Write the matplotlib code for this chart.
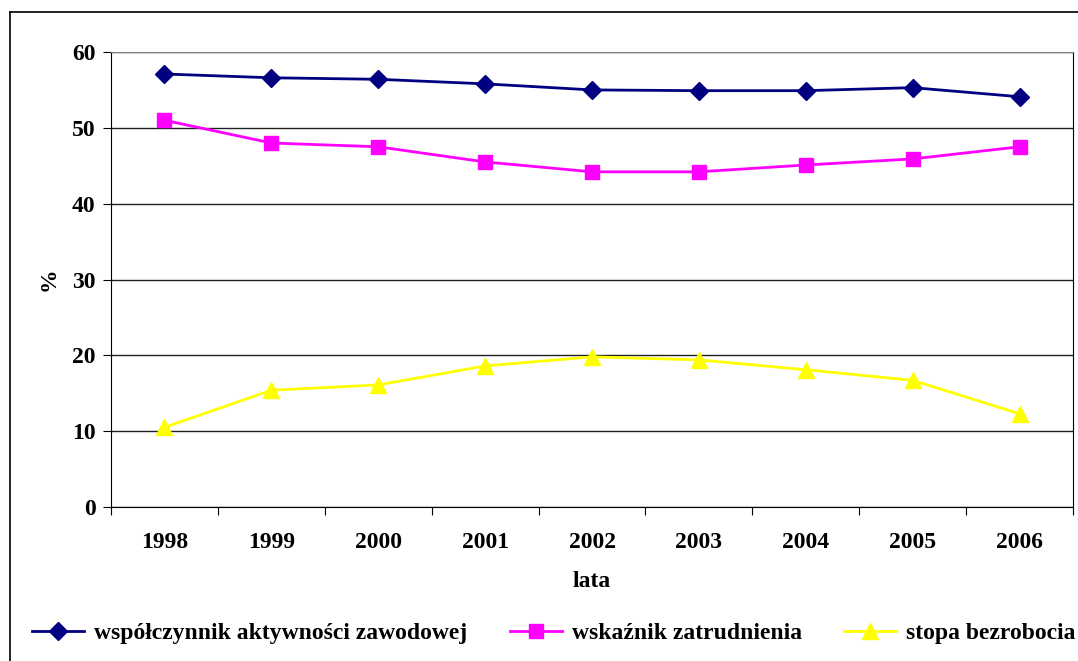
import numpy as np
import matplotlib
matplotlib.use('Agg')
import matplotlib.pyplot as plt
from matplotlib.lines import Line2D

plt.rcParams['font.family'] = 'Liberation Serif'
plt.rcParams['font.weight'] = 'bold'

# data
years = ['1998', '1999', '2000', '2001', '2002', '2003', '2004', '2005', '2006']
aktywnosc = [57.1, 56.6, 56.4, 55.8, 55.0, 54.9, 54.9, 55.3, 54.1]
zatrudnienie = [51.0, 48.0, 47.5, 45.5, 44.2, 44.2, 45.1, 45.9, 47.5]
bezrobocie = [10.5, 15.4, 16.1, 18.6, 19.8, 19.4, 18.1, 16.7, 12.3]
labels = ['współczynnik aktywności zawodowej', 'wskaźnik zatrudnienia', 'stopa bezrobocia']

W, H = 1078, 661
fs = 17
fig = plt.figure(figsize=(W / 100, H / 100), dpi=100)
ax = fig.add_axes([111 / W, 1 - 507 / H, (1073 - 111) / W, 455 / H])

x = np.arange(len(years))
ax.plot(x, aktywnosc, color='#000080', lw=2, marker='D', ms=9.5, label=labels[0])
ax.plot(x, zatrudnienie, color='#FF00FF', lw=2, marker='s', ms=10.5, label=labels[1])
ax.plot(x, bezrobocie, color='#FFFF00', lw=2, marker='^', ms=11, label=labels[2])

ax.set_xlim(-0.5, len(years) - 0.5)
ax.set_ylim(0, 60)
ax.set_yticks(range(0, 61, 10))
ax.yaxis.grid(True, color='#202020', lw=1)
ax.set_axisbelow(True)

# categories centred, ticks between them
ax.set_xticks(np.arange(-0.5, len(years), 1))
ax.set_xticklabels([])
ax.set_xticks(x, minor=True)
ax.set_xticklabels(years, minor=True, fontsize=fs, fontweight='bold')
ax.tick_params(axis='x', which='minor', length=0, pad=18)
ax.tick_params(axis='x', which='major', length=6, direction='out', color='black')
ax.tick_params(axis='y', length=6, direction='out', labelsize=fs, pad=5)
for lab in ax.get_yticklabels():
    lab.set_fontweight('bold')

ax.spines['top'].set_color('#808080')
for s in ['left', 'bottom', 'right']:
    ax.spines[s].set_color('black')

ax.set_xlabel('lata', fontsize=fs, fontweight='bold', labelpad=13)
ax.set_ylabel('%', fontsize=fs, fontweight='bold', labelpad=9)

fig.legend(loc='center', bbox_to_anchor=(0.514, 1 - 633 / H), ncol=3, frameon=False,
           fontsize=fs, handlelength=2.2, columnspacing=1.8, handletextpad=0.42,
           borderpad=0, borderaxespad=0)

# outer chart border
fig.add_artist(Line2D([10 / W, 10 / W], [0, 1 - 12 / H], color='black', lw=1.2,
                      transform=fig.transFigure))
fig.add_artist(Line2D([10 / W, 1], [1 - 12 / H, 1 - 12 / H], color='black', lw=1.2,
                      transform=fig.transFigure))

fig.savefig('out.png', dpi=100, facecolor='white')
